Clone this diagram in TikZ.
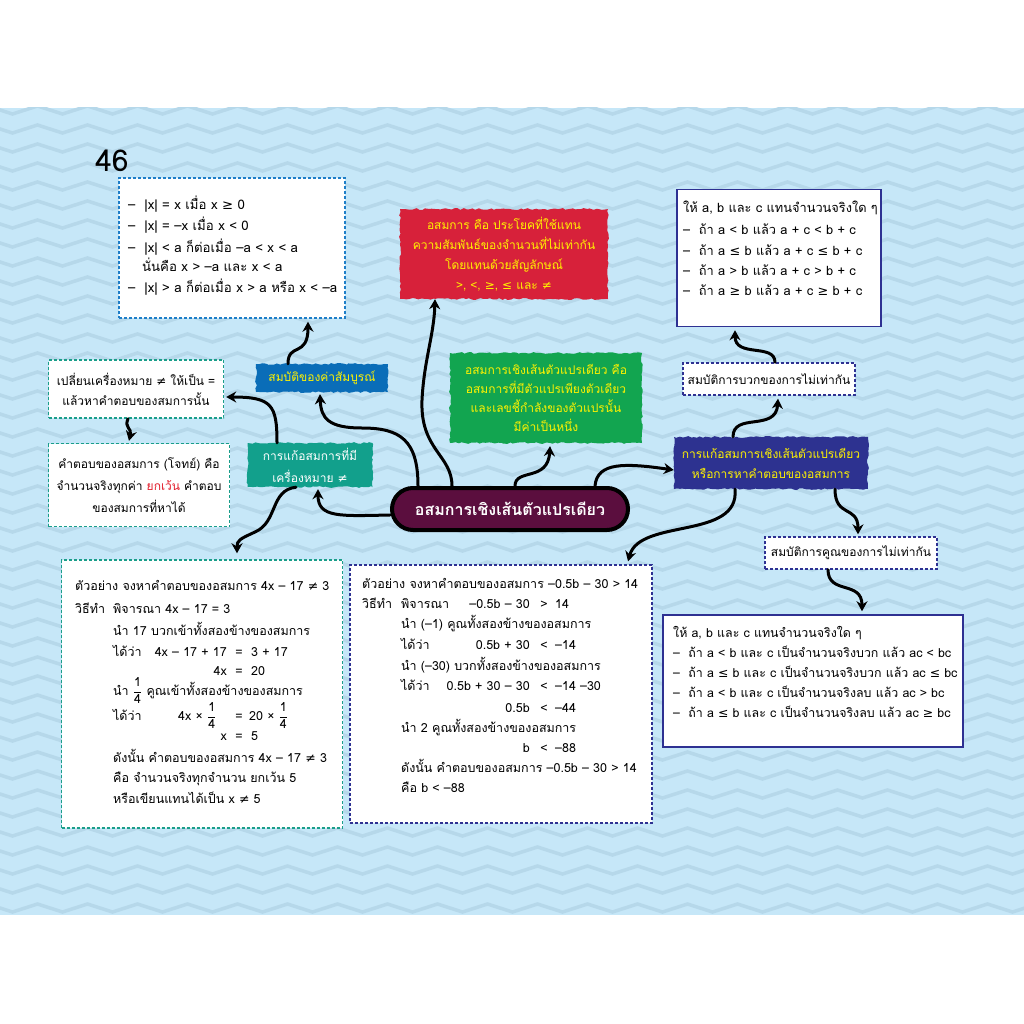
\documentclass[tikz,border=0pt]{standalone}
\usepackage{amsmath}
\usepackage{fontspec}
\setmainfont{Loma}[Script=Thai]
\newfontfamily\symf{DejaVu Sans}
\newcommand{\gte}{{\symf ≥}}
\newcommand{\lte}{{\symf ≤}}
\newcommand{\nq}{{\symf ≠}}
\newcommand{\qtr}{$\dfrac{\text{1}}{\text{4}}$}
\newcommand{\fsx}[1]{\fontsize{#1}{20}\selectfont\lineskiplimit=-100pt\lineskip=0pt}
\newcommand{\fsz}{\fontsize{12}{20}\selectfont\lineskiplimit=-100pt\lineskip=0pt}
\newcommand{\fszw}{\fontsize{12}{22}\selectfont\lineskiplimit=-100pt\lineskip=0pt}
\newcommand{\fszn}{\fontsize{12}{19}\selectfont\lineskiplimit=-100pt\lineskip=0pt}
\usetikzlibrary{arrows.meta,decorations.pathmorphing}
\definecolor{bandblue}{HTML}{C6E7F8}
\definecolor{zigblue}{HTML}{B6D8EA}
\definecolor{absblue}{HTML}{1E7EC8}
\definecolor{tealline}{HTML}{1A9E8A}
\definecolor{navy}{HTML}{2E3192}
\definecolor{redlab}{HTML}{D7213A}
\definecolor{greenlab}{HTML}{12A550}
\definecolor{bluelab}{HTML}{0A6DB8}
\definecolor{teallab}{HTML}{12A08C}
\definecolor{navylab}{HTML}{2D3290}
\definecolor{maroon}{HTML}{5B0E3E}
\definecolor{txtyellow}{HTML}{FFF200}
\definecolor{redword}{HTML}{E21D2B}

\begin{document}
\begin{tikzpicture}[x=1pt,y=-1pt,
  zig/.style={draw=zigblue,line width=3.5pt,decorate,
    decoration={zigzag,segment length=50pt,amplitude=4pt}},
  dbox/.style={draw=#1,fill=white,line width=1.4pt,dash pattern=on 3pt off 2pt,
    inner sep=0pt,align=center,font=\fsz},
  sbox/.style={draw=navy,fill=white,line width=1.5pt,inner sep=0pt},
  torn/.style={fill=#1,inner sep=0pt,align=center,font=\fsz,
    decorate,decoration={random steps,segment length=3pt,amplitude=0.9pt}},
  ln/.style={anchor=base west,inner sep=0pt,font=\fsx{12.5}},
  lnr/.style={anchor=base east,inner sep=0pt,font=\fsx{12.5}},
  rel/.style={anchor=base,inner sep=0pt,font=\fsx{12.5}},
  con/.style={line width=3pt,line cap=round,-{Stealth[length=10pt,width=11pt]}}]
  \pgfmathsetseed{7}
  \useasboundingbox (0,0) rectangle (1024,1024);
  \fill[white] (0,0) rectangle (1024,1024);
  % background band
  \fill[bandblue] (0,108) rectangle (1024,915);
  \begin{scope}
    \clip (0,108) rectangle (1024,915);
    \foreach \r in {0,...,43}
      \draw[zig] (-25,110+19*\r) -- (1050,110+19*\r);
  \end{scope}
  \node[inner sep=0pt,font=\fontsize{30}{30}\selectfont] (page) at (112,161) {46};

  % boxes
  \node[dbox=absblue,minimum width=226pt,minimum height=140pt] (absbox) at (232,248) {};
  \node[sbox,minimum width=204pt,minimum height=137pt] (addprop) at (779,258) {};
  \node[sbox,minimum width=300pt,minimum height=132pt] (mulprop) at (813,681) {};
  \node[dbox=tealline,minimum width=281pt,minimum height=268pt] (exleft) at (202,694) {};
  \node[dbox=navy,minimum width=302pt,minimum height=258pt] (exmid) at (501,694) {};
  \node[dbox=tealline,minimum width=175pt,minimum height=58pt] (change) at (136,389)
    {เปลี่ยนเครื่องหมาย \nq{} ให้เป็น =\\แล้วหาคำตอบของสมการนั้น};
  \node[dbox=tealline,minimum width=181pt,minimum height=83pt,font=\fszw] (answer) at (139,485)
    {คำตอบของอสมการ (โจทย์) คือ\\จำนวนจริงทุกค่า \textcolor{redword}{ยกเว้น} คำตอบ\\ของสมการที่หาได้};
  \node[dbox=navy,minimum width=172pt,minimum height=32pt] (addhead) at (769,379) {สมบัติการบวกของการไม่เท่ากัน};
  \node[dbox=navy,minimum width=172pt,minimum height=32pt] (mulhead) at (851,553) {สมบัติการคูณของการไม่เท่ากัน};

  % labels
  \node[torn=redlab,text=txtyellow,minimum width=208pt,minimum height=90pt] (ineq) at (504,254)
    {อสมการ คือ ประโยคที่ใช้แทน\\ความสัมพันธ์ของจำนวนที่ไม่เท่ากัน\\โดยแทนด้วยสัญลักษณ์\\>, <, \gte, \lte{} และ \nq};
  \node[torn=greenlab,text=txtyellow,minimum width=192pt,minimum height=90pt,font=\fszn] (defn) at (546,398)
    {อสมการเชิงเส้นตัวแปรเดียว คือ\\อสมการที่มีตัวแปรเพียงตัวเดียว\\และเลขชี้กำลังของตัวแปรนั้น\\มีค่าเป็นหนึ่ง};
  \node[torn=bluelab,text=txtyellow,minimum width=132pt,minimum height=28pt] (abslab) at (322,378) {สมบัติของค่าสัมบูรณ์};
  \node[torn=teallab,text=white,minimum width=125pt,minimum height=44pt,font=\fszw] (neqlab) at (310,465)
    {การแก้อสมการที่มี\\เครื่องหมาย \nq};
  \node[torn=navylab,text=txtyellow,minimum width=194pt,minimum height=52pt] (solve) at (771,463)
    {การแก้อสมการเชิงเส้นตัวแปรเดียว\\หรือการหาคำตอบของอสมการ};
  \node[draw=black,line width=4pt,fill=maroon,rounded corners=21pt,minimum width=236pt,minimum height=42pt,
    text=white,font=\fontsize{16}{16}\selectfont\bfseries] (main) at (510,509) {อสมการเชิงเส้นตัวแปรเดียว};

  % absolute value
  \foreach \y/\t [count=\i] in {210/{–\ \ |x| = x เมื่อ x \gte{} 0},230/{–\ \ |x| = –x เมื่อ x < 0},
      252/{–\ \ |x| < a ก็ต่อเมื่อ –a < x < a},271/{\hspace*{14pt}นั่นคือ x > –a และ x < a},
      292/{–\ \ |x| > a ก็ต่อเมื่อ x > a หรือ x < –a}}
    \node[ln,font=\fsx{13.2}] (abs-\i) at (128,\y) {\t};
  % addition property
  \foreach \y/\t [count=\i] in {213/{ให้ a, b และ c แทนจำนวนจริงใด ๆ},235/{–\ \ ถ้า a < b แล้ว a + c < b + c},
      255/{–\ \ ถ้า a \lte{} b แล้ว a + c \lte{} b + c},275/{–\ \ ถ้า a > b แล้ว a + c > b + c},
      295/{–\ \ ถ้า a \gte{} b แล้ว a + c \gte{} b + c}}
    \node[ln,font=\fsx{12.8}] (add-\i) at (683,\y) {\t};
  % multiplication property
  \foreach \y/\t [count=\i] in {637/{ให้ a, b และ c แทนจำนวนจริงใด ๆ},
      657/{–\ \ ถ้า a < b และ c เป็นจำนวนจริงบวก แล้ว ac < bc},
      677/{–\ \ ถ้า a \lte{} b และ c เป็นจำนวนจริงบวก แล้ว ac \lte{} bc},
      697/{–\ \ ถ้า a < b และ c เป็นจำนวนจริงลบ แล้ว ac > bc},
      717/{–\ \ ถ้า a \lte{} b และ c เป็นจำนวนจริงลบ แล้ว ac \gte{} bc}}
    \node[ln,font=\fsx{12.4}] (mul-\i) at (673,\y) {\t};

  % example 1
  \node[ln] (el1) at (75,590) {ตัวอย่าง จงหาคำตอบของอสมการ 4x – 17 \nq{} 3};
  \node[ln] (el2) at (75,613) {วิธีทำ};
  \node[ln] (el3) at (113,613) {พิจารณา 4x – 17 = 3};
  \node[ln] (el4) at (113,635) {นำ 17 บวกเข้าทั้งสองข้างของสมการ};
  \node[ln] (el5) at (113,656) {ได้ว่า};
  \node[lnr] (el5r) at (227,656) {4x – 17 + 17};
  \node[lnr] (el6) at (227,675) {4x};
  \node[ln] (el7) at (113,695) {นำ \qtr\ คูณเข้าทั้งสองข้างของสมการ};
  \node[ln] (el8) at (113,720) {ได้ว่า};
  \node[ln] (el9) at (178,720) {4x × \qtr};
  \node[lnr] (el10) at (227,740) {x};
  \foreach \y in {656,675,720,740}
    \node[rel] (eq-\y) at (239,\y) {=};
  \node[ln] (er1) at (251,656) {3 + 17};
  \node[ln] (er2) at (251,675) {20};
  \node[ln] (er3) at (249,720) {20 × \qtr};
  \node[ln] (er4) at (251,740) {5};
  \node[ln] (el11) at (113,762) {ดังนั้น คำตอบของอสมการ 4x – 17 \nq{} 3};
  \node[ln] (el12) at (113,782) {คือ จำนวนจริงทุกจำนวน ยกเว้น 5};
  \node[ln] (el13) at (113,803) {หรือเขียนแทนได้เป็น x \nq{} 5};

  % example 2
  \node[ln] (em1) at (362,588) {ตัวอย่าง จงหาคำตอบของอสมการ –0.5b – 30 > 14};
  \node[ln] (em2) at (362,608) {วิธีทำ};
  \node[ln] (em3) at (401,608) {พิจารณา};
  \node[ln] (em4) at (401,628) {นำ (–1) คูณทั้งสองข้างของอสมการ};
  \node[ln] (em5) at (401,649) {ได้ว่า};
  \node[ln] (em6) at (401,670) {นำ (–30) บวกทั้งสองข้างของอสมการ};
  \node[ln] (em7) at (401,690) {ได้ว่า};
  \node[ln] (em8) at (401,732) {นำ 2 คูณทั้งสองข้างของอสมการ};
  \node[ln] (em9) at (401,772) {ดังนั้น คำตอบของอสมการ –0.5b – 30 > 14};
  \node[ln] (em10) at (401,792) {คือ b < –88};
  \foreach \y/\l/\r/\s [count=\i] in {608/{–0.5b – 30}/>/14,649/{0.5b + 30}/</–14,
      690/{0.5b + 30 – 30}/</{–14 –30},712/0.5b/</–44,752/b/</–88}{
    \node[lnr] (ml-\i) at (530,\y) {\l};
    \node[rel] (mr-\i) at (544,\y) {\r};
    \node[ln] (ms-\i) at (555,\y) {\s};
  }

  % connectors
  \draw[con] ([xshift=-58pt]main.north) .. controls (452,455) and (420,450) .. (422,400)
    .. controls (424,360) and (434,335) .. ([xshift=-69pt]ineq.south);
  \draw[con] ([xshift=-92pt]main.north) .. controls (418,440) and (400,428) .. (362,428)
    .. controls (328,428) and (321,418) .. ([xshift=-2pt,yshift=-2pt]abslab.south);
  \draw[con] ([yshift=-6pt]main.west) .. controls (340,516) and (318,518) .. ([xshift=8pt,yshift=-2pt]neqlab.south);
  \draw[con] ([xshift=5pt]main.north) .. controls (515,468) and (548,482) .. ([xshift=4pt,yshift=-3pt]defn.south);
  \draw[con] ([xshift=85pt]main.north) .. controls (597,462) and (625,463) .. ([yshift=-7pt]solve.west);
  \draw[con] ([xshift=-33pt]neqlab.north) .. controls (277,405) and (272,397) .. ([xshift=2pt,yshift=-8pt]change.east);
  \draw[con] ([xshift=-8pt]change.south) .. controls (124,428) and (132,428) .. ([xshift=-10pt,yshift=2pt]answer.north);
  \draw[con] ([xshift=-14pt]neqlab.south) .. controls (270,490) and (278,522) .. (255,532)
    .. controls (240,539) and (237,540) .. ([xshift=35pt,yshift=6pt]exleft.north);
  \draw[con] ([xshift=-34pt]abslab.north) .. controls (288,342) and (308,358) .. ([xshift=76pt,yshift=-3pt]absbox.south);
  \draw[con] ([xshift=-38pt]solve.north) .. controls (733,412) and (776,432) .. ([xshift=9pt,yshift=-3pt]addhead.south);
  \draw[con] ([xshift=6pt]addhead.north) .. controls (775,343) and (735,358) .. ([xshift=-44pt,yshift=-3pt]addprop.south);
  \draw[con] ([xshift=64pt]solve.south) .. controls (835,518) and (858,505) .. ([xshift=7pt,yshift=2pt]mulhead.north);
  \draw[con] ([xshift=-23pt]mulhead.south) .. controls (828,595) and (862,580) .. ([xshift=49pt,yshift=3pt]mulprop.north);
  \draw[con] ([xshift=-36pt]solve.south) .. controls (740,540) and (640,518) .. ([xshift=127pt,yshift=3pt]exmid.north);
\end{tikzpicture}
\end{document}
